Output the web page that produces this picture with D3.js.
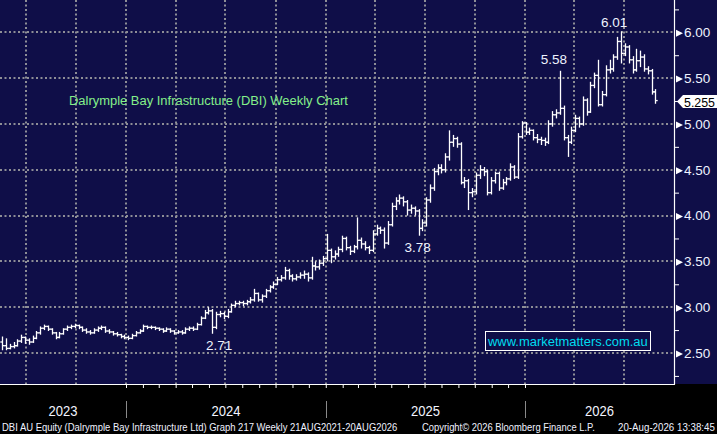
<!DOCTYPE html>
<html><head><meta charset="utf-8">
<script src="https://cdn.jsdelivr.net/npm/d3@7"></script>
<style>html,body{margin:0;padding:0;background:#000;overflow:hidden}svg{display:block}</style>
</head><body><svg id="c" width="717" height="434"></svg>
<script>
// ---------- DATA ----------
const firstWeek = "2023-05-19";   // first weekly bar (Friday)
const lastPrice = 5.255;
const opens = [
2.62,2.58,2.55,2.57,2.58,2.63,2.67,2.64,2.62,2.66,
2.72,2.77,2.79,2.76,2.72,2.67,2.71,2.76,2.78,2.79,
2.80,2.78,2.75,2.73,2.72,2.75,2.77,2.78,2.74,2.73,
2.71,2.70,2.68,2.67,2.66,2.69,2.72,2.74,2.79,2.78,
2.78,2.77,2.76,2.74,2.76,2.74,2.72,2.73,2.72,2.76,
2.77,2.76,2.81,2.88,2.94,2.96,2.78,2.92,2.93,2.90,
2.95,3.02,3.04,3.05,3.04,3.06,3.08,3.15,3.08,3.12,
3.18,3.22,3.25,3.30,3.32,3.40,3.34,3.31,3.33,3.35,
3.36,3.32,3.45,3.44,3.48,3.53,3.62,3.55,3.58,3.63,
3.75,3.65,3.61,3.66,3.73,3.69,3.65,3.62,3.80,3.86,
3.84,3.70,3.90,4.10,4.16,4.19,4.15,4.06,4.08,4.05,
3.86,3.92,4.17,4.30,4.48,4.52,4.50,4.64,4.80,4.84,
4.78,4.36,4.38,4.25,4.26,4.44,4.50,4.48,4.25,4.38,
4.46,4.30,4.36,4.40,4.53,4.42,4.86,5.01,4.91,4.93,
4.85,4.83,4.82,4.80,5.00,5.10,5.12,5.17,4.85,4.80,
4.93,5.06,5.00,5.26,5.13,5.42,5.53,5.21,5.32,5.59,
5.60,5.73,5.90,5.77,5.84,5.70,5.59,5.69,5.73,5.60,
5.58,5.35];
const highs = [
2.68,2.66,2.60,2.62,2.65,2.70,2.68,2.66,2.69,2.74,
2.79,2.81,2.80,2.77,2.73,2.73,2.77,2.80,2.81,2.82,
2.81,2.79,2.77,2.75,2.77,2.79,2.80,2.79,2.76,2.74,
2.73,2.71,2.70,2.69,2.71,2.74,2.76,2.81,2.80,2.80,
2.79,2.78,2.77,2.78,2.77,2.75,2.75,2.75,2.78,2.79,
2.79,2.83,2.90,2.97,3.00,2.98,2.95,2.96,2.95,2.98,
3.04,3.07,3.07,3.07,3.08,3.11,3.20,3.16,3.14,3.20,
3.24,3.28,3.33,3.35,3.44,3.42,3.36,3.36,3.38,3.40,
3.38,3.55,3.50,3.52,3.56,3.80,3.64,3.62,3.66,3.78,
3.77,3.67,3.68,3.98,3.76,3.72,3.67,3.84,3.90,3.88,
3.87,3.94,4.14,4.20,4.23,4.21,4.17,4.12,4.10,4.07,
3.96,4.20,4.34,4.52,4.56,4.56,4.68,4.93,4.88,4.86,
4.80,4.42,4.40,4.30,4.47,4.55,4.53,4.50,4.42,4.48,
4.48,4.40,4.42,4.57,4.55,4.90,5.03,5.02,4.96,4.94,
4.89,4.86,4.85,5.04,5.14,5.16,5.58,5.20,4.88,4.97,
5.10,5.08,5.30,5.28,5.46,5.56,5.70,5.36,5.64,5.70,
5.76,5.95,6.01,5.88,5.86,5.74,5.82,5.80,5.76,5.63,
5.60,5.38];
const lows = [
2.53,2.53,2.54,2.55,2.57,2.61,2.60,2.59,2.61,2.65,
2.70,2.75,2.74,2.70,2.65,2.66,2.70,2.74,2.76,2.77,
2.76,2.73,2.71,2.70,2.71,2.73,2.75,2.72,2.71,2.69,
2.68,2.66,2.65,2.64,2.65,2.68,2.71,2.73,2.76,2.76,
2.75,2.74,2.72,2.73,2.72,2.70,2.71,2.70,2.71,2.74,
2.74,2.75,2.80,2.87,2.92,2.71,2.76,2.89,2.87,2.88,
2.94,3.00,3.02,3.01,3.02,3.04,3.06,3.06,3.05,3.10,
3.16,3.20,3.24,3.28,3.30,3.30,3.28,3.29,3.31,3.31,
3.28,3.30,3.40,3.41,3.45,3.50,3.48,3.52,3.55,3.60,
3.62,3.57,3.59,3.63,3.64,3.62,3.58,3.60,3.78,3.80,
3.64,3.68,3.88,4.06,4.12,4.10,4.00,4.02,4.00,3.78,
3.83,3.88,4.14,4.27,4.44,4.46,4.47,4.60,4.75,4.74,
4.34,4.30,4.06,4.20,4.23,4.40,4.43,4.22,4.23,4.35,
4.27,4.28,4.33,4.38,4.40,4.40,4.84,4.88,4.88,4.82,
4.79,4.77,4.76,4.78,4.97,5.06,5.10,4.82,4.64,4.78,
4.91,4.96,4.98,5.09,5.12,5.39,5.19,5.19,5.30,5.55,
5.57,5.70,5.66,5.74,5.66,5.55,5.57,5.62,5.57,5.54,
5.32,5.22];
const closes = [
2.58,2.55,2.57,2.58,2.63,2.67,2.64,2.62,2.66,2.72,
2.77,2.79,2.76,2.72,2.67,2.71,2.76,2.78,2.79,2.80,
2.78,2.75,2.73,2.72,2.75,2.77,2.78,2.74,2.73,2.71,
2.70,2.68,2.67,2.66,2.69,2.72,2.74,2.79,2.78,2.78,
2.77,2.76,2.74,2.76,2.74,2.72,2.73,2.72,2.76,2.77,
2.76,2.81,2.88,2.94,2.96,2.78,2.92,2.93,2.90,2.95,
3.02,3.04,3.05,3.04,3.06,3.08,3.15,3.08,3.12,3.18,
3.22,3.25,3.30,3.32,3.40,3.34,3.31,3.33,3.35,3.36,
3.32,3.45,3.44,3.48,3.53,3.62,3.55,3.58,3.63,3.75,
3.65,3.61,3.66,3.73,3.69,3.65,3.62,3.80,3.86,3.84,
3.70,3.90,4.10,4.16,4.19,4.15,4.06,4.08,4.05,3.86,
3.92,4.17,4.30,4.48,4.52,4.50,4.64,4.80,4.84,4.78,
4.36,4.38,4.25,4.26,4.44,4.50,4.48,4.25,4.38,4.46,
4.30,4.36,4.40,4.53,4.42,4.86,5.01,4.91,4.93,4.85,
4.83,4.82,4.80,5.00,5.10,5.12,5.17,4.85,4.80,4.93,
5.06,5.00,5.26,5.13,5.42,5.53,5.21,5.32,5.59,5.60,
5.73,5.90,5.77,5.84,5.70,5.59,5.69,5.73,5.60,5.58,
5.35,5.255];
const yTicks = [2.5,3.0,3.5,4.0,4.5,5.0,5.5,6.0];
const yMinorTicks = [2.25,2.75,3.25,3.75,4.25,4.75,5.25,5.75,6.25];
const yearLabels = ["2023","2024","2025","2026"];
const annoWeeks  = [55, 109, 146, 162];
const annoValues = [2.71, 3.78, 5.58, 6.01];
const titleText = "Dalrymple Bay Infrastructure (DBI) Weekly Chart";
const watermark = "www.marketmatters.com.au";
const footerLeft = "DBI AU Equity (Dalrymple Bay Infrastructure Ltd) Graph 217 Weekly 21AUG2021-20AUG2026";
const footerMid = "Copyright\u00A9 2026 Bloomberg Finance L.P.";
const footerRight = "20-Aug-2026 13:38:45";

// ---------- LAYOUT / STYLE ----------
const W = 717, H = 434, plotR = 674, plotB = 384;
const BG = "#0f0e48", GRID = "#8e8e96", FONT = "'Liberation Sans', Arial, sans-serif";
const annoOffsets = [[7,16],[-1,16],[-6,-7],[-7,-4]];

const svg = d3.select("#c");
svg.append("rect").attr("width", W).attr("height", H).attr("fill", "#000");
svg.append("rect").attr("width", W).attr("height", plotB).attr("fill", BG);

// fit a text to a target width by horizontal scaling (keeps bbox honest)
function fitText(sel, x0, yb, width) {
  const n = sel.node().getComputedTextLength();
  const k = width / n;
  sel.attr("x", 0).attr("y", 0).attr("transform", `translate(${x0},${yb}) scale(${k},1)`);
}

const x = d3.scaleUtc()
  .domain([new Date(Date.UTC(2024,0,1)), new Date(Date.UTC(2026,0,1))])
  .range([126, 525]);
const y = d3.scaleLinear().domain([2.5, 6.0]).range([353, 32.3]);

const start = new Date(firstWeek + "T00:00:00Z");
const dates = closes.map((_, i) => d3.utcDay.offset(start, 7 * i));
const bars = dates.map((d, i) => ({d, o: opens[i], h: highs[i], l: lows[i], c: closes[i]}));

// grid
const quarters = d3.utcMonth.every(3).range(new Date(Date.UTC(2023,6,1)), new Date(Date.UTC(2026,8,1)));
const grid = svg.append("g").attr("stroke", GRID).attr("stroke-width", 2).attr("stroke-dasharray", "2,2.5");
grid.selectAll("line.v").data(quarters).join("line").attr("class","v")
  .attr("x1", d => Math.round(x(d))).attr("x2", d => Math.round(x(d))).attr("y1", 0).attr("y2", plotB);
grid.selectAll("line.h").data(yTicks).join("line").attr("class","h")
  .attr("x1", 0).attr("x2", plotR).attr("y1", d => Math.round(y(d))).attr("y2", d => Math.round(y(d)));

// title
fitText(svg.append("text").attr("font-family", FONT).attr("font-size", 13.5)
  .attr("fill", "#84f08a").text(titleText), 69, 105, 279);

// watermark
svg.append("rect").attr("x", 485.5).attr("y", 331.5).attr("width", 165).attr("height", 19)
  .attr("fill", BG).attr("stroke", "#fff").attr("stroke-width", 1);
fitText(svg.append("text").attr("font-family", FONT).attr("font-size", 13.5)
  .attr("fill", "#00dcef").text(watermark), 488, 346, 160);

// OHLC bars
const bg = svg.append("g").attr("stroke", "#fff").attr("stroke-width", 1.3).attr("fill","none");
const bx = d => Math.round(x(d.d)) + 0.5;
bg.selectAll("line.hl").data(bars).join("line").attr("class","hl")
  .attr("x1", bx).attr("x2", bx).attr("y1", d => y(d.h)).attr("y2", d => y(d.l));
bg.selectAll("line.o").data(bars).join("line").attr("class","o")
  .attr("x1", d => bx(d) - 2.2).attr("x2", bx).attr("y1", d => y(d.o)).attr("y2", d => y(d.o));
bg.selectAll("line.c").data(bars).join("line").attr("class","c")
  .attr("x1", bx).attr("x2", d => bx(d) + 2.2).attr("y1", d => y(d.c)).attr("y2", d => y(d.c));

// annotations
svg.selectAll("text.anno").data(annoWeeks).join("text").attr("class","anno")
  .attr("x", (w, i) => x(dates[w]) + annoOffsets[i][0])
  .attr("y", (w, i) => y(annoValues[i]) + annoOffsets[i][1])
  .attr("text-anchor", "middle").attr("font-family", FONT).attr("font-size", 13.5)
  .attr("fill", "#eef3ff").text((w, i) => annoValues[i].toFixed(2));

// right axis
const yAxis = d3.axisRight(y).tickValues(yTicks).tickSize(0).tickPadding(10).tickFormat(d3.format(".2f"));
const ya = svg.append("g").attr("transform", `translate(${plotR},0)`).call(yAxis);
ya.select(".domain").remove();
ya.selectAll("text").attr("font-family", FONT).attr("font-size", 13.5).attr("fill", "#eef3ff");
ya.selectAll(".tick").append("path").attr("d", "M2,-3L9,0.5L2,4Z").attr("fill", "#fff");
const yMinor = d3.axisRight(y).tickValues(yMinorTicks).tickSize(5).tickFormat("");
const ym = svg.append("g").attr("transform", `translate(${plotR},0)`).call(yMinor);
ym.select(".domain").remove();
ym.selectAll("line").attr("stroke", "#fff");
svg.append("line").attr("x1", plotR + 0.5).attr("x2", plotR + 0.5).attr("y1", 0).attr("y2", plotB + 0.5)
  .attr("stroke", "#fff").attr("stroke-width", 1.2);

// last price label
const ly = Math.round(y(lastPrice)) + 0.5;
svg.append("path").attr("d", `M677,${ly}L683,${ly-6.5}H717V${ly+6.5}H683Z`).attr("fill", "#fff");
fitText(svg.append("text").attr("font-family", FONT).attr("font-size", 13.5)
  .attr("fill", "#000").text(lastPrice.toString()), 684, ly + 5, 31);

// bottom axis
const xAxis = d3.axisBottom(x).ticks(d3.utcMonth.every(1)).tickSize(4).tickFormat("");
const xa = svg.append("g").attr("transform", `translate(0,${plotB})`).call(xAxis);
xa.select(".domain").remove();
xa.selectAll("line").attr("stroke", "#fff");
xa.selectAll(".tick").filter(d => x(d) < 0 || x(d) > plotR).remove();
svg.append("line").attr("x1", 0).attr("x2", plotR + 1).attr("y1", plotB + 0.5).attr("y2", plotB + 0.5)
  .attr("stroke", "#fff").attr("stroke-width", 1.2);

// year labels & separators
const yearStarts = yearLabels.map(s => new Date(Date.UTC(+s, 0, 1)));
const yearCenters = yearStarts.map(d => {
  const a = Math.max(0, x(d)), b = Math.min(plotR, x(d3.utcYear.offset(d, 1)));
  return (a + b) / 2;
});
yearLabels.forEach((s, i) => {
  fitText(svg.append("text").attr("class","yr").attr("font-family", FONT).attr("font-size", 15)
    .attr("fill", "#f2f4ff").text(s), yearCenters[i] - 14.5, 416, 29);
});
svg.selectAll("line.ysep").data(yearStarts.slice(1)).join("line").attr("class","ysep")
  .attr("x1", d => Math.round(x(d)) + 0.5).attr("x2", d => Math.round(x(d)) + 0.5)
  .attr("y1", 401).attr("y2", 418).attr("stroke", "#8a8a8a").attr("stroke-width", 1);

// footer
const ft = [[footerLeft, 2, 396], [footerMid, 422, 173], [footerRight, 618, 97]];
ft.forEach(d => {
  fitText(svg.append("text").attr("class","ft").attr("font-family", FONT).attr("font-size", 11)
    .attr("fill", "#f0f2ff").text(d[0]), d[1], 431, d[2]);
});
</script></body></html>
